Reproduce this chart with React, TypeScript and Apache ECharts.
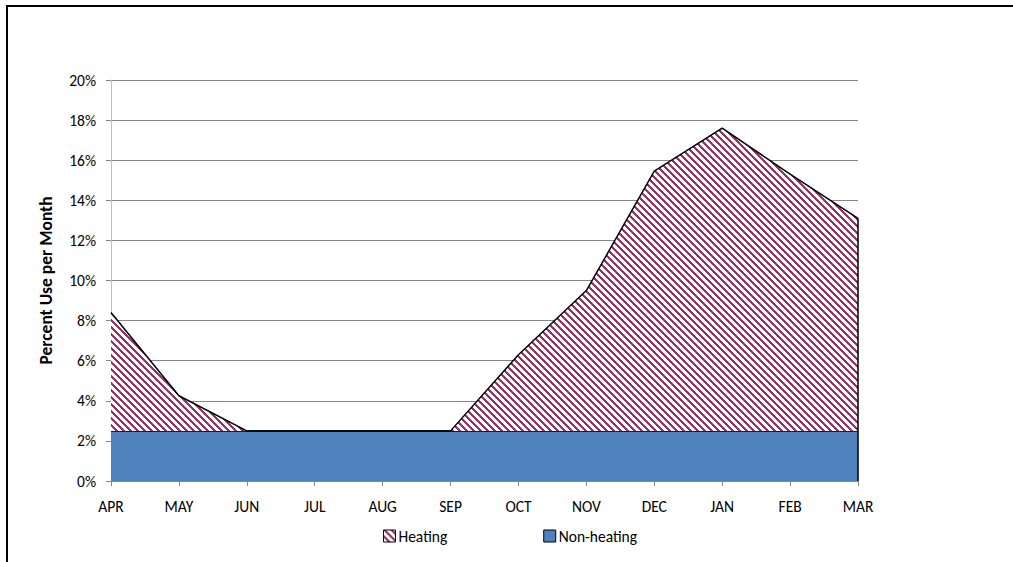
import React, { useEffect, useRef } from "react";
import * as echarts from "echarts";

const months = ["APR", "MAY", "JUN", "JUL", "AUG", "SEP", "OCT", "NOV", "DEC", "JAN", "FEB", "MAR"];
const nonHeating = [2.5, 2.5, 2.5, 2.5, 2.5, 2.5, 2.5, 2.5, 2.5, 2.5, 2.5, 2.5];
const heating = [5.9, 1.75, 0, 0, 0, 0, 3.8, 7.0, 12.95, 15.1, 12.8, 10.6];
const yTicks = { min: 0, max: 20, interval: 2 };

function makeStripe(): string {
  const size = 7;
  const c = document.createElement("canvas");
  c.width = size;
  c.height = size;
  const ctx = c.getContext("2d")!;
  ctx.fillStyle = "#ffffff";
  ctx.fillRect(0, 0, size, size);
  ctx.fillStyle = "#993366";
  for (let x = 0; x < size; x++) {
    for (let y = 0; y < size; y++) {
      const d = (((x - y) % size) + size) % size;
      if (d < 3) ctx.fillRect(x, y, 1, 1);
    }
  }
  return c.toDataURL();
}

export default function App() {
  const ref = useRef<HTMLDivElement>(null);
  useEffect(() => {
    document.body.style.margin = "0";
    const chart = echarts.init(ref.current!, undefined, { renderer: "svg" });
    const stripe = { image: makeStripe(), repeat: "repeat" } as any;
    const font = "Carlito, Calibri, Lato, sans-serif";
    const total = heating.map((h, i) => h + nonHeating[i]);
    chart.setOption({
      animation: false,
      backgroundColor: "#ffffff",
      textStyle: { fontFamily: font },
      graphic: [
        {
          type: "rect",
          shape: { x: 7, y: 6, width: 1200, height: 800 },
          style: { fill: "none", stroke: "#000000", lineWidth: 2 },
          silent: true,
        },
      ],
      grid: { left: 111, right: 155, top: 80, bottom: 81 },
      legend: {
        top: 523,
        left: 378,
        itemGap: 96,
        itemWidth: 12,
        itemHeight: 12,
        itemStyle: { borderColor: "#000" },
        textStyle: { fontFamily: font, fontSize: 15.5, color: "#000", padding: [0, 0, 0, -2] },
        data: [
          { name: "Heating", icon: "rect", itemStyle: { color: stripe, borderColor: "#000", borderWidth: 1 } },
          { name: "Non-heating", icon: "rect", itemStyle: { color: "#4F81BD", borderColor: "#000", borderWidth: 1 } },
        ],
      },
      xAxis: {
        type: "category",
        data: months,
        boundaryGap: false,
        axisLine: { lineStyle: { color: "#868686" } },
        axisTick: { show: true, length: 5, lineStyle: { color: "#868686" } },
        axisLabel: { color: "#000", fontSize: 15.5, margin: 17, fontFamily: font },
        splitLine: { show: false },
      },
      yAxis: {
        type: "value",
        min: yTicks.min,
        max: yTicks.max,
        interval: yTicks.interval,
        name: "Percent Use per Month",
        nameLocation: "middle",
        nameGap: 56,
        nameTextStyle: { fontWeight: "bold", fontSize: 17.5, color: "#000", fontFamily: font },
        axisLine: { show: true, lineStyle: { color: "#BFBFBF" } },
        axisTick: { show: true, length: 5, lineStyle: { color: "#868686" } },
        axisLabel: { formatter: "{value}%", color: "#000", fontSize: 15.5, margin: 15, fontFamily: font },
        splitLine: { lineStyle: { color: "#868686", width: 1 } },
      },
      series: [
        {
          name: "Non-heating",
          type: "line",
          stack: "total",
          data: nonHeating,
          symbol: "none",
          lineStyle: { color: "#000", width: 1.5 },
          itemStyle: { color: "#4F81BD" },
          areaStyle: { color: "#4F81BD", opacity: 1 },
          z: 2,
        },
        {
          name: "Heating",
          type: "line",
          stack: "total",
          data: heating,
          symbol: "none",
          lineStyle: { color: "#000", width: 1.5 },
          itemStyle: { color: "#993366" },
          areaStyle: { color: stripe, opacity: 1 },
          z: 3,
          markLine: {
            silent: true,
            symbol: "none",
            label: { show: false },
            lineStyle: { color: "#000", width: 1.5, type: "solid" },
            data: [
              [
                { coord: [months[months.length - 1], 0] },
                { coord: [months[months.length - 1], total[total.length - 1]] },
              ],
            ],
          },
        },
      ],
    });
    return () => chart.dispose();
  }, []);
  return <div ref={ref} style={{ position: "absolute", left: 0, top: 0, width: 1013, height: 562 }} />;
}
